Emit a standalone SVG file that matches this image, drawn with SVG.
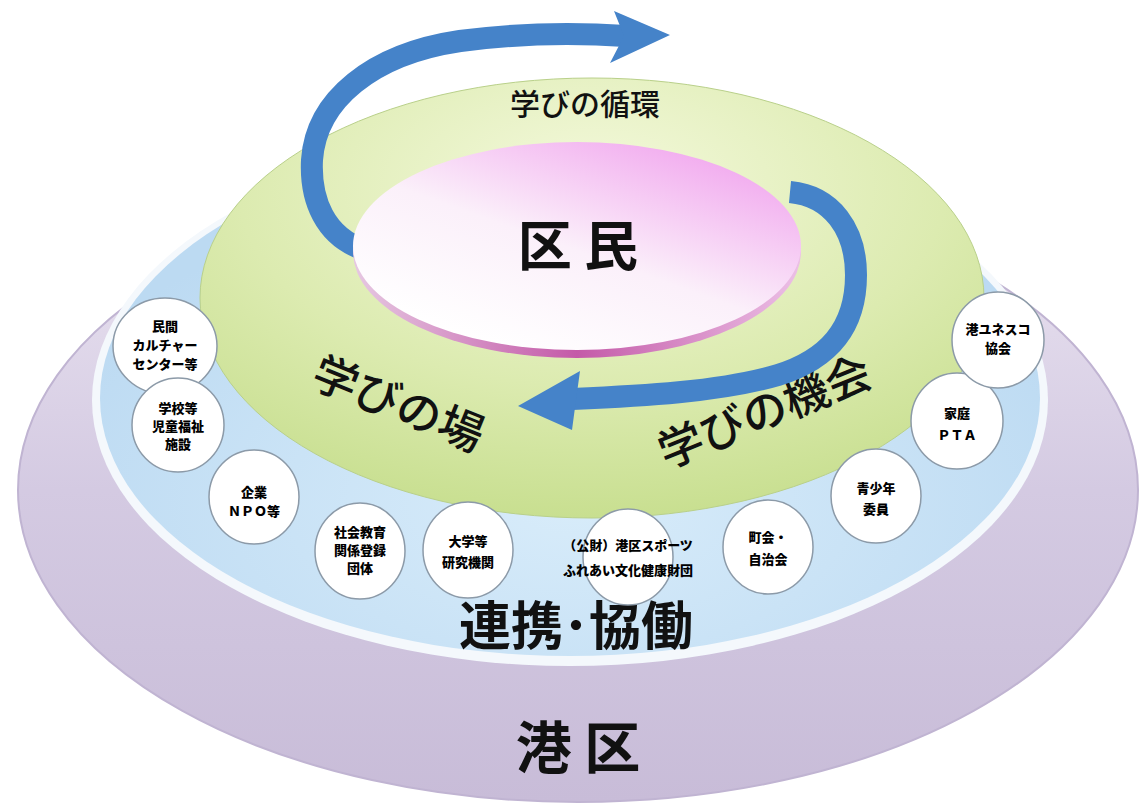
<svg xmlns="http://www.w3.org/2000/svg" width="1141" height="804" viewBox="0 0 1141 804">
<defs>
<linearGradient id="gPurple" x1="0" y1="0" x2="0" y2="1">
<stop offset="0" stop-color="#ece6f2"/>
<stop offset="0.5" stop-color="#d4cae2"/>
<stop offset="1" stop-color="#c8bcd8"/>
</linearGradient>
<radialGradient id="gBlue" cx="0.5" cy="0.7" r="0.6">
<stop offset="0" stop-color="#d8ecfa"/>
<stop offset="1" stop-color="#bcdaf2"/>
</radialGradient>
<radialGradient id="gGreen" cx="0.5" cy="0.25" r="0.75">
<stop offset="0" stop-color="#f4f9dc"/>
<stop offset="0.6" stop-color="#dcebb0"/>
<stop offset="1" stop-color="#c8df90"/>
</radialGradient>
<linearGradient id="gPink" x1="0.2" y1="0.9" x2="0.85" y2="0.05">
<stop offset="0" stop-color="#ffffff"/>
<stop offset="0.45" stop-color="#fbf0fa"/>
<stop offset="1" stop-color="#f1a6ee"/>
</linearGradient>
<linearGradient id="gEdge" x1="0" y1="0" x2="1" y2="0">
<stop offset="0" stop-color="#e6c8e2"/>
<stop offset="0.5" stop-color="#c45aa8"/>
<stop offset="1" stop-color="#ecc0e6"/>
</linearGradient>
<style>
.org{fill:#ffffff;stroke:#8c9aa8;stroke-width:1.5}
.ot{font-family:"Noto Sans CJK JP","Noto Sans CJK SC",sans-serif;font-weight:900;font-size:13px;fill:#000;text-anchor:middle}
.big{font-family:"Noto Sans CJK JP","Noto Sans CJK SC",sans-serif;font-weight:700;fill:#111;text-anchor:middle}
.lbl{font-family:"Noto Sans CJK JP","Noto Sans CJK SC",sans-serif;font-weight:500;fill:#111;text-anchor:middle}
.arrow{fill:none;stroke:#4583c9;stroke-width:22}
.head{fill:#4583c9}
</style>
</defs>
<rect width="1141" height="804" fill="#ffffff"/>

<g id="minato-ring">
<ellipse cx="578" cy="490" rx="560" ry="312" fill="url(#gPurple)" stroke="#c0b4d2" stroke-width="2"/>
<text class="big" x="578" y="768" font-size="56">港 区</text>
</g>

<g id="kyodo-ring">
<ellipse cx="570" cy="400" rx="478" ry="266" fill="#f4f8fc"/>
<ellipse cx="570" cy="398" rx="470" ry="258" fill="url(#gBlue)"/>
<text class="big" x="576" y="645" font-size="52">連携･協働</text>
</g>

<g id="manabi-ring">
<ellipse cx="592" cy="298" rx="392" ry="220" fill="url(#gGreen)" stroke="#b9d08a" stroke-width="1"/>
<text class="lbl" x="585" y="115" font-size="30">学びの循環</text>
<text class="lbl" x="398" y="420" font-size="45" transform="rotate(22 398 405)">学びの場</text>
<text class="lbl" x="765" y="428" font-size="45" transform="rotate(-22 765 413)">学びの機会</text>
</g>

<g id="connectors">
<path class="arrow" d="M 365 250 C 325 237 310 200 312 160 C 316 100 372 54 460 41 C 520 33 580 33 626 36"/>
<polygon class="head" points="614,11 670,35 610,63 624,36"/>
<path class="arrow" d="M 790 192 C 832 196 856 230 856 275 C 856 330 826 360 778 375 C 720 392 640 396 572 399"/>
<polygon class="head" points="580,371 518,406 572,430 576,400"/>
</g>

<g id="kumin">
<ellipse cx="577" cy="252" rx="224" ry="106" fill="url(#gEdge)"/>
<ellipse cx="577" cy="246" rx="224" ry="104" fill="url(#gPink)"/>
<text class="big" x="578" y="266" font-size="54" fill="#000">区 民</text>
</g>

<g id="org1"><ellipse class="org" cx="165" cy="346" rx="52" ry="48"/><text class="ot" x="165" y="331">民間</text><text class="ot" x="165" y="350">カルチャー</text><text class="ot" x="165" y="369">センター等</text></g>
<g id="org2"><ellipse class="org" cx="178" cy="425" rx="46" ry="47"/><text class="ot" x="178" y="413">学校等</text><text class="ot" x="178" y="431">児童福祉</text><text class="ot" x="178" y="449">施設</text></g>
<g id="org3"><ellipse class="org" cx="254" cy="497" rx="45" ry="47"/><text class="ot" x="254" y="497">企業</text><text class="ot" x="254" y="516">ＮＰＯ等</text></g>
<g id="org4"><ellipse class="org" cx="360" cy="551" rx="45" ry="48"/><text class="ot" x="360" y="537">社会教育</text><text class="ot" x="360" y="555">関係登録</text><text class="ot" x="360" y="573">団体</text></g>
<g id="org5"><ellipse class="org" cx="468" cy="550" rx="45" ry="48"/><text class="ot" x="468" y="546">大学等</text><text class="ot" x="468" y="567">研究機関</text></g>
<g id="org6"><ellipse class="org" cx="628" cy="557" rx="45" ry="48"/><text class="ot" x="628" y="550">（公財）港区スポーツ</text><text class="ot" x="628" y="575">ふれあい文化健康財団</text></g>
<g id="org7"><ellipse class="org" cx="768" cy="547" rx="45" ry="47"/><text class="ot" x="768" y="542">町会・</text><text class="ot" x="768" y="564">自治会</text></g>
<g id="org8"><ellipse class="org" cx="876" cy="496" rx="45" ry="47"/><text class="ot" x="876" y="493">青少年</text><text class="ot" x="876" y="514">委員</text></g>
<g id="org9"><ellipse class="org" cx="957" cy="421" rx="46" ry="48"/><text class="ot" x="957" y="418">家庭</text><text class="ot" x="957" y="440">ＰＴＡ</text></g>
<g id="org10"><ellipse class="org" cx="998" cy="340" rx="46" ry="48"/><text class="ot" x="998" y="334">港ユネスコ</text><text class="ot" x="998" y="353">協会</text></g>
</svg>
